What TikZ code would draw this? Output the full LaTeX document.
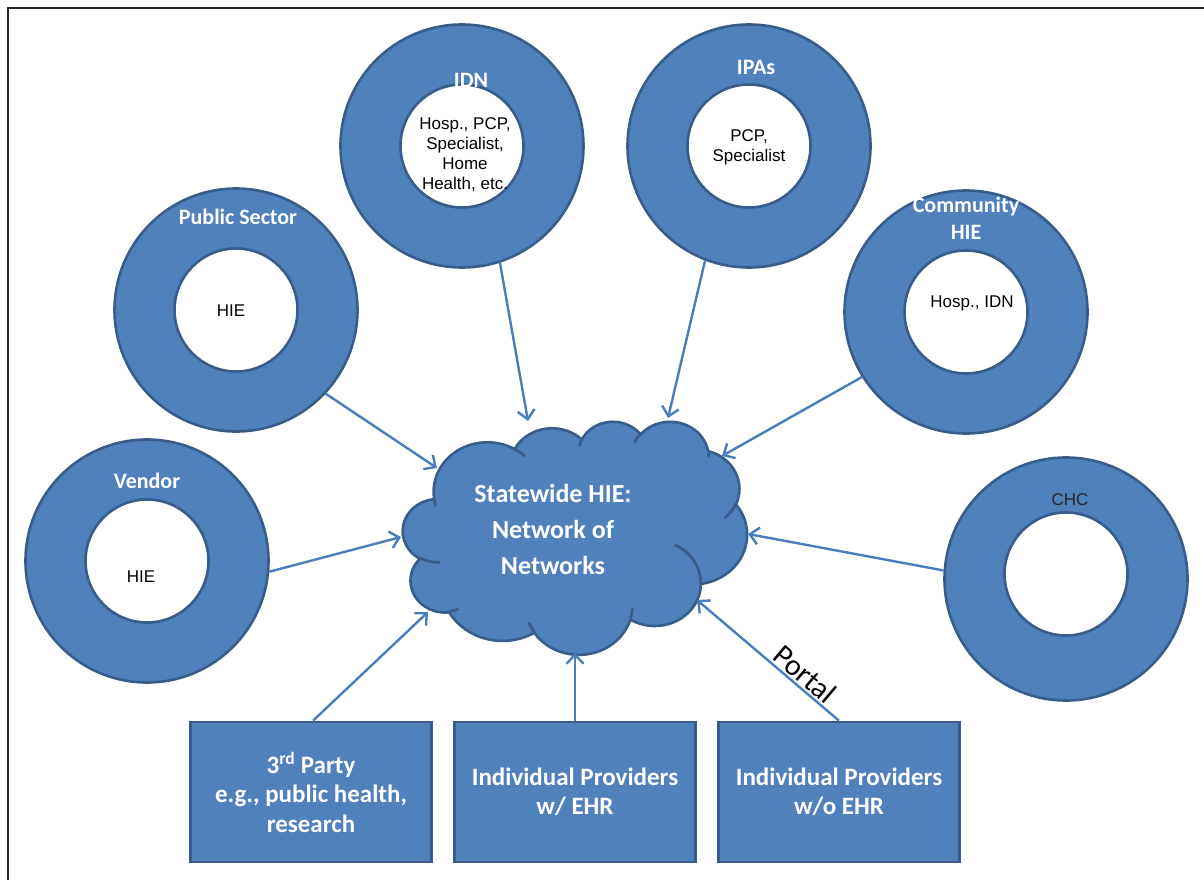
\documentclass[tikz,border=0pt]{standalone}
\usepackage{fontspec}
\setmainfont{Liberation Sans}
\newfontfamily\calibri{Carlito}
\usetikzlibrary{arrows.meta}

\definecolor{accent}{HTML}{4F81BD}
\definecolor{rim}{HTML}{385D8A}
\definecolor{link}{HTML}{4A7EBB}

% one lobe of the cloud outline: x radius, y radius, start angle, sweep (angles measured on the ellipse as seen)
\newcommand\puff[4]{arc[x radius=#1, y radius=#2,
  start angle={atan2((#1)*sin(#3),(#2)*cos(#3))},
  delta angle={Mod(atan2((#1)*sin((#3)+(#4)),(#2)*cos((#3)+(#4)))-atan2((#1)*sin(#3),(#2)*cos(#3)),360)}]}

\begin{document}
\begin{tikzpicture}[x=1pt,y=-1pt,
  ring/.style={circle, fill=accent, draw=rim, line width=2.6pt, minimum size=243pt, inner sep=0pt},
  hole/.style={circle, fill=white, draw=rim, line width=2.6pt, minimum size=123pt, inner sep=0pt},
  title/.style={font=\calibri\bfseries\fontsize{22}{27}\selectfont, text=white, align=center, inner sep=0pt},
  inner/.style={font=\fontsize{17}{20}\selectfont, text=black, align=center, inner sep=0pt},
  card/.style={rectangle, fill=accent, draw=rim, line width=2.6pt, minimum width=241pt, minimum height=140pt,
    text=white, font=\calibri\bfseries\fontsize{25}{29.5}\selectfont, align=center},
  feed/.style={draw=link, line width=2.4pt, -{Straight Barb[length=9pt,width=17pt]}},
]
\useasboundingbox (0,0) rectangle (1204,880);

% page frame
\draw[line width=2.2pt, black!85] (8,880) -- (8,8) -- (1204,8);

% ring shapes
\node[ring] (ps)  at (236,310) {};
\node[ring] (ven) at (147,561) {};
\node[ring] (idn) at (462,146) {};
\node[ring] (ipa) at (749,146) {};
\node[ring] (com) at (966,312) {};
\node[ring] (chc) at (1066,579) {};
\foreach \r in {ps,ven,idn,ipa,com} \node[hole] (\r-in) at (\r) {};
\node[hole] (chc-in) at (1066,574) {};

% ring titles
\node[title] at (238,217) {Public Sector};
\node[title] at (147,481) {Vendor};
\node[title] at (471,80)  {IDN};
\node[title] at (756,67)  {IPAs};
\node[title] at (966,218) {Community\\HIE};
\node[inner, text=black!85] at (1070,500) {CHC};

% ring contents
\node[inner] at (231,311) {HIE};
\node[inner] at (141,577) {HIE};
\node[inner] at (465,155) {Hosp., PCP,\\Specialist,\\Home\\Health, etc.};
\node[inner] at (749,147) {PCP,\\Specialist};
\node[inner] at (972,303) {Hosp., IDN};

% central cloud
\begin{scope}[shift={(403,421)}, xscale=0.07963, yscale=0.053935]
  \draw[fill=accent, draw=rim, line width=2.6pt]
    (390,1437)
    \puff{675.3}{919.0}{-190.4875}{123.7805}
    \puff{533.3}{726.7}{-144.1024}{89.9452}
    \puff{436.5}{594.5}{-145.8079}{99.7230}
    \puff{485.7}{659.5}{-130.9861}{117.2417}
    \puff{533.3}{727.3}{-78.7089}{109.0269}
    \puff{677.5}{922.0}{-46.2673}{130.2690}
    \puff{578.5}{786.7}{0.6250}{114.0333}
    \puff{675.2}{921.5}{22.4516}{115.1726}
    \puff{772.0}{1054.3}{66.2426}{75.7110}
    \puff{436.0}{591.8}{-274.9421}{146.7356}
    \puff{434.5}{594.5}{-246.8285}{152.5189}
    -- cycle;
  \draw[draw=rim, line width=2.6pt]
    (469.3,2617.7)  \puff{434.5}{594.5}{86.7420}{26.4295}
    (692.8,3489.9)  \puff{436.0}{591.8}{73.6105}{11.4475}
    (1647.8,3909.0) \puff{675.2}{921.5}{137.6242}{14.0811}
    (2882.7,3475.1) \puff{675.2}{921.5}{6.4533}{15.9984}
    (3412.9,2295.4) \puff{578.5}{786.7}{-70.2924}{70.9174}
    (4179.8,1535.4) \puff{533.3}{727.3}{30.3180}{27.7515}
    (3832.4,542.6)  \puff{485.7}{659.5}{-13.7443}{14.8589}
    (2907.8,395.2)  \puff{485.7}{659.5}{-149.1815}{18.1954}
    (2214.1,472.0)  \puff{436.5}{594.5}{-163.4943}{17.6864}
    (1400.0,519.2)  \puff{675.3}{919.0}{-66.7070}{12.3194}
    (412.7,1578.9)  \puff{675.3}{919.0}{157.6544}{11.8582};
\end{scope}
\node[font=\calibri\bfseries\fontsize{26}{36}\selectfont, text=white, align=center] (hub) at (553,529)
  {Statewide HIE:\\Network of\\Networks};

% bottom boxes
\node[card] (b1) at (311,792) {3\textsuperscript{rd} Party\\e.g., public health,\\research};
\node[card] (b2) at (575,792) {Individual Providers\\w/ EHR};
\node[card] (b3) at (839,792) {Individual Providers\\w/o EHR};

% arrow tips on the cloud outline
\coordinate (tPS)  at (437,468);
\coordinate (tIDN) at (528,421);
\coordinate (tIPA) at (668,418);
\coordinate (tCOM) at (722,456);
\coordinate (tCHC) at (748,534);
\coordinate (tVEN) at (401,537);
\coordinate (tB1)  at (428,612);
\coordinate (tB2)  at (575,653);
\coordinate (tB3)  at (697,600);

% links into the hub
\draw[feed] (ps.-43)   -- (tPS);
\draw[feed] (idn.-72)  -- (tIDN);
\draw[feed] (ipa.-111) -- (tIPA);
\draw[feed] (com.-148) -- (tCOM);
\draw[feed] (chc.176)  -- (tCHC);
\draw[feed] (ven.-5)   -- (tVEN);
\draw[feed] (b1.north -| 313,0) -- (tB1);
\draw[feed] (b2.north) -- (tB2);
\draw[feed] (b3.north) -- (tB3)
  node[pos=0.3, above, sloped, font=\calibri\fontsize{30}{32}\selectfont, text=black, inner sep=2pt] (portal) {Portal};
\end{tikzpicture}
\end{document}
